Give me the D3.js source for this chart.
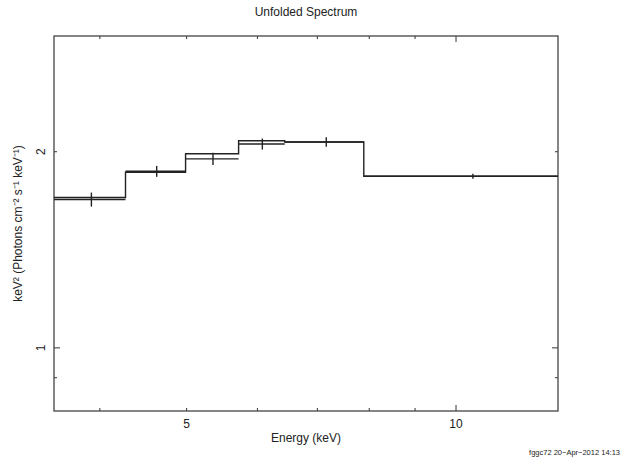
<!DOCTYPE html>
<html><head><meta charset="utf-8">
<script src="https://cdn.jsdelivr.net/npm/d3@7"></script>
<style>body{margin:0;background:#fff;} svg{display:block;}</style>
</head><body>
<svg id="chart" width="637" height="465"></svg>
<script>
// Data
const binLo = [3.555, 4.273, 4.987, 5.716, 6.436, 7.888];
const binHi = [4.273, 4.987, 5.716, 6.436, 7.888, 13.0];
const dataFlux = [1.689, 1.866, 1.950, 2.055, 2.070, 1.834];
const dataErr = [0.042, 0.036, 0.042, 0.040, 0.034, 0.016];
const modelFlux = [1.701, 1.860, 1.986, 2.079, 2.070, 1.834];
const xMajorTicks = [10];
const xMinorTicks = [4, 5, 6, 7, 8, 9];
const xTickLabels = [5, 10];
const yMajorTicks = [1];
const yMinorTicks = [0.9, 2, 3];
const yTickLabels = [1, 2];

const svg = d3.select("#chart");
const L = 54, R = 558, T = 36, B = 411;
const x = d3.scaleLog().domain([3.555, 13.0]).range([L, R]);
const y = d3.scaleLog().domain([0.80, 3.01]).range([B, T]);
const font = "'Liberation Sans', Arial, Helvetica, sans-serif";
const ink = "#222";

// frame
svg.append("rect").attr("x", L).attr("y", T).attr("width", R - L).attr("height", B - T)
  .attr("fill", "none").attr("stroke", "#444").attr("stroke-width", 1.3);

const g = svg.append("g").attr("stroke", "#444").attr("stroke-width", 1.1);
function xt(v, len) {
  g.append("line").attr("x1", x(v)).attr("x2", x(v)).attr("y1", B).attr("y2", B - len);
  g.append("line").attr("x1", x(v)).attr("x2", x(v)).attr("y1", T).attr("y2", T + len);
}
function yt(v, len) {
  g.append("line").attr("y1", y(v)).attr("y2", y(v)).attr("x1", L).attr("x2", L + len);
  g.append("line").attr("y1", y(v)).attr("y2", y(v)).attr("x1", R).attr("x2", R - len);
}
xMajorTicks.forEach(v => xt(v, 6));
xMinorTicks.forEach(v => xt(v, 3));
yMajorTicks.forEach(v => yt(v, 6));
yMinorTicks.filter(v => y(v) > T + 1).forEach(v => yt(v, 3));

// tick labels
svg.selectAll(".xl").data(xTickLabels).join("text")
  .attr("x", d => x(d)).attr("y", 428).attr("text-anchor", "middle")
  .attr("font-family", font).attr("font-size", 12).attr("fill", ink).text(d => d);
svg.selectAll(".yl").data(yTickLabels).join("text")
  .attr("transform", d => `translate(45,${y(d)}) rotate(-90)`)
  .attr("text-anchor", "middle")
  .attr("font-family", font).attr("font-size", 12).attr("fill", ink).text(d => d);

// titles
svg.append("text").attr("x", 306).attr("y", 16).attr("text-anchor", "middle")
  .attr("font-family", font).attr("font-size", 12).attr("fill", ink).text("Unfolded Spectrum");
svg.append("text").attr("x", 306).attr("y", 442).attr("text-anchor", "middle")
  .attr("font-family", font).attr("font-size", 12).attr("fill", ink).text("Energy (keV)");
svg.append("text").attr("transform", `translate(22,${(T + B) / 2}) rotate(-90)`)
  .attr("text-anchor", "middle").attr("font-family", font).attr("font-size", 12).attr("fill", ink)
  .text("keV\u00B2 (Photons cm\u207B\u00B2 s\u207B\u00B9 keV\u207B\u00B9)");
svg.append("text").attr("x", 620).attr("y", 455).attr("text-anchor", "end")
  .attr("font-family", font).attr("font-size", 7.5).attr("fill", ink).text("fggc72 20\u2212Apr\u22122012 14:13");

// model step histogram
const stepPts = [];
binLo.forEach((lo, i) => { stepPts.push([x(lo), y(modelFlux[i])]); stepPts.push([x(binHi[i]), y(modelFlux[i])]); });
svg.append("path").attr("d", d3.line()(stepPts)).attr("fill", "none")
  .attr("stroke", ink).attr("stroke-width", 1.4);

// data crosses
const d = svg.append("g").attr("stroke", ink).attr("stroke-width", 1.4);
binLo.forEach((lo, i) => {
  const xm = (lo + binHi[i]) / 2;
  d.append("line").attr("x1", x(lo)).attr("x2", x(binHi[i]))
    .attr("y1", y(dataFlux[i])).attr("y2", y(dataFlux[i]));
  d.append("line").attr("x1", x(xm)).attr("x2", x(xm))
    .attr("y1", y(dataFlux[i] - dataErr[i])).attr("y2", y(dataFlux[i] + dataErr[i]));
});
</script>
</body></html>
